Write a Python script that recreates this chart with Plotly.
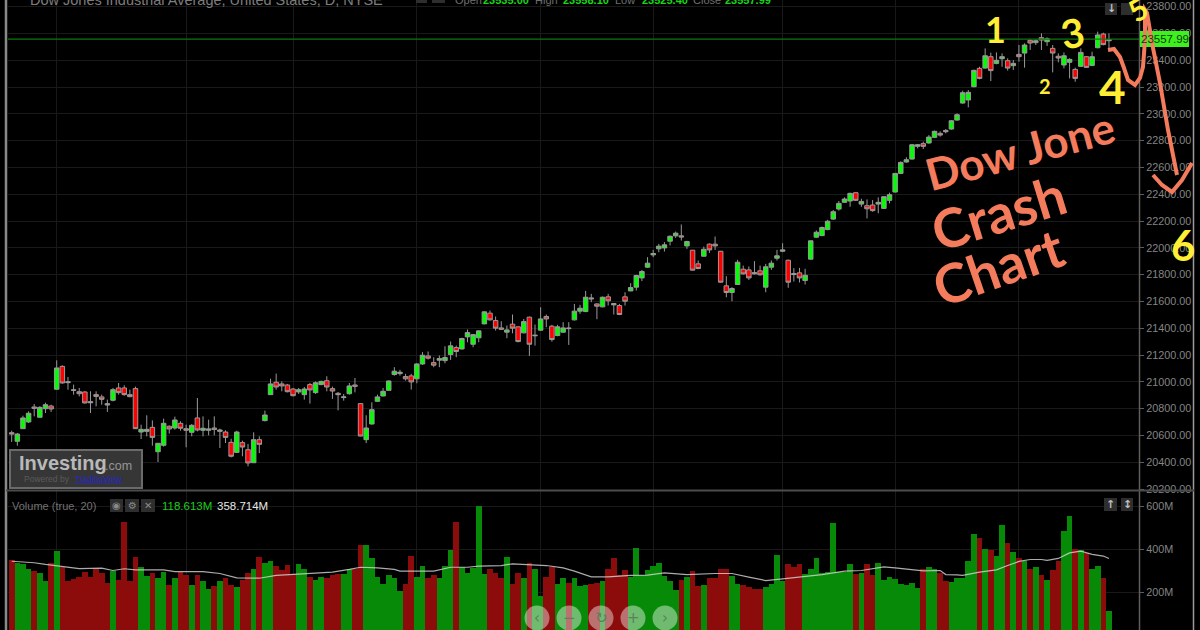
import plotly.graph_objects as go

highs = [20636,20619,20748,20780,20835,20818,20845,20830,21161,21124,
 21037,20980,20955,20930,20930,20930,20905,20868,20955,20992,
 20975,20942,20965,20681,20751,20713,20544,20726,20676,20741,
 20706,20681,20686,20880,20743,20718,20743,20651,20639,20576,
 20636,20562,20537,20624,20594,20786,21024,21062,21004,20985,
 20955,20955,20962,20992,21004,21009,21042,20965,20925,20910,
 20992,21029,20840,20751,20848,20905,20955,21012,21110,21090,
 21060,21060,21139,21222,21227,21184,21197,21266,21301,21271,
 21329,21391,21358,21383,21525,21533,21488,21453,21421,21503,
 21413,21470,21488,21428,21557,21503,21426,21426,21446,21446,
 21582,21575,21679,21657,21587,21637,21657,21587,21582,21669,
 21737,21799,21836,21931,21985,22030,22043,22092,22122,22175,
 22053,21985,21906,22010,22033,22085,21978,21789,21707,21911,
 21868,21861,21901,21868,21881,21906,21985,22035,21913,21849,
 21851,21844,22055,22130,22160,22209,22283,22350,22377,22412,
 22414,22367,22362,22357,22377,22387,22412,22559,22646,22676,
 22775,22775,22793,22842,22875,22870,22887,22954,23004,23173,
 23178,23330,23352,23489,23457,23459,23452,23415,23402,23514,
 23527,23556,23556,23601,23571,23514,23452,23459,23415,23345,
 23489,23432,23464,23614,23606,23601]

body_tops = [20621,20611,20731,20766,20813,20810,20830,20820,21104,21116,
 21002,20942,20927,20925,20853,20905,20888,20838,20942,20955,
 20955,20905,20950,20646,20646,20661,20542,20691,20669,20716,
 20691,20651,20676,20731,20654,20649,20656,20641,20626,20549,
 20626,20547,20494,20569,20569,20753,20985,20997,20985,20977,
 20947,20942,20947,20980,20994,21004,21009,20950,20915,20888,
 20970,20977,20838,20656,20793,20888,20930,21007,21080,21072,
 21040,21045,21134,21199,21194,21144,21174,21182,21269,21256,
 21324,21368,21353,21381,21523,21513,21458,21403,21388,21431,
 21411,21450,21483,21348,21470,21488,21416,21411,21403,21403,
 21528,21550,21632,21627,21582,21632,21635,21585,21570,21635,
 21704,21794,21824,21886,21958,22013,22023,22087,22110,22090,
 22048,21983,21881,21990,22028,22028,21975,21717,21697,21893,
 21841,21836,21816,21829,21859,21886,21941,21985,21908,21809,
 21814,21796,22053,22117,22152,22199,22270,22332,22365,22407,
 22412,22347,22315,22320,22340,22382,22397,22556,22638,22658,
 22770,22770,22778,22827,22870,22855,22877,22949,22994,23158,
 23161,23325,23340,23434,23427,23400,23427,23397,23377,23444,
 23514,23549,23546,23569,23561,23489,23430,23434,23407,23332,
 23459,23427,23427,23589,23596,23554]

body_bottoms = [20611,20557,20651,20701,20803,20736,20800,20798,20945,20992,
 20995,20937,20912,20843,20845,20892,20870,20828,20863,20920,
 20905,20890,20651,20626,20631,20586,20479,20527,20649,20656,
 20654,20639,20624,20641,20639,20639,20646,20631,20586,20445,
 20474,20514,20395,20397,20534,20711,20905,20962,20970,20927,
 20897,20925,20905,20940,20920,20980,20962,20932,20905,20883,
 20912,20967,20596,20569,20686,20855,20895,20937,21055,21062,
 21023,21000,21023,21134,21177,21125,21162,21159,21204,21227,
 21246,21336,21281,21329,21433,21463,21401,21393,21371,21401,
 21301,21366,21281,21344,21386,21470,21316,21346,21371,21398,
 21463,21528,21525,21620,21565,21560,21605,21575,21503,21602,
 21679,21707,21776,21856,21948,21993,22000,22050,22090,22082,
 22015,21834,21846,21938,21985,22015,21744,21667,21667,21727,
 21806,21776,21806,21799,21707,21856,21923,21975,21744,21801,
 21776,21757,21916,22080,22092,22137,22215,22290,22340,22350,
 22355,22327,22292,22278,22327,22295,22355,22417,22556,22641,
 22663,22758,22758,22783,22825,22842,22867,22887,22954,23081,
 23104,23203,23265,23342,23323,23377,23412,23342,23360,23427,
 23454,23529,23532,23551,23539,23454,23417,23365,23385,23265,
 23355,23347,23362,23494,23517,23546]

lows = [20552,20524,20649,20693,20743,20736,20768,20776,20942,20987,
 20942,20905,20892,20838,20768,20818,20830,20776,20855,20905,
 20897,20885,20649,20574,20594,20524,20402,20517,20614,20644,
 20636,20512,20594,20631,20594,20601,20601,20507,20544,20437,
 20469,20445,20370,20395,20469,20706,20902,20942,20930,20922,
 20892,20910,20868,20838,20910,20975,20930,20873,20788,20860,
 20905,20922,20594,20544,20681,20853,20892,20935,21047,21047,
 21010,20943,20990,21127,21167,21110,21110,21139,21164,21184,
 21241,21296,21259,21296,21431,21458,21383,21388,21326,21363,
 21296,21363,21194,21271,21383,21408,21301,21341,21366,21276,
 21458,21508,21520,21595,21468,21557,21570,21503,21498,21570,
 21677,21682,21752,21851,21931,21968,21973,22018,22075,22055,
 21993,21831,21841,21936,21963,21985,21742,21632,21602,21724,
 21801,21761,21801,21794,21669,21836,21906,21968,21702,21749,
 21742,21727,21913,22075,22087,22132,22208,22278,22337,22307,
 22350,22307,22220,22270,22258,22290,22332,22414,22551,22636,
 22658,22743,22738,22778,22820,22830,22855,22882,22949,23076,
 23049,23198,23258,23337,23245,23370,23352,23323,23328,23390,
 23345,23477,23514,23477,23507,23310,23385,23340,23265,23240,
 23350,23345,23357,23489,23512,23489]

directions = ("RGGGRGGRGR" "RRRRRRRRGR" "RRRGGRGGRG" "RRGRGGRGRR" "GRRGRGGRRR"
              "RGGRGGRRRG" "GRRGGGGGGG" "RRGGRRGGGR" "GGGGGRRRGR" "RGRGGRRGGR"
              "GGGRRGRRRR" "GGGGGGGGGR" "GRRGRRRRGG" "RRRRGGGGRR" "RGGGGGGGGG"
              "RGRRGGGGGG" "GGRGGRRGGG" "GGRGRGGRGR" "GRGRGRRGGR" "GRGGRG")

volumes = [353,337,334,308,300,292,256,336,392,320,
 252,264,273,294,273,312,289,244,301,261,
 530,252,365,320,278,292,269,294,234,269,
 297,281,234,281,252,217,230,252,266,234,
 224,261,292,308,365,340,348,326,304,328,
 286,334,308,273,261,273,269,281,287,287,
 311,308,421,421,360,273,242,281,269,206,
 242,370,273,326,270,281,269,326,396,529,
 320,292,314,602,287,308,292,270,365,238,
 292,270,336,312,186,273,318,238,269,247,
 266,230,234,242,247,252,312,362,281,306,
 273,406,280,306,326,336,278,252,211,261,
 273,300,233,234,270,266,308,308,278,242,
 234,225,217,217,225,242,374,256,331,318,
 331,287,308,362,292,294,522,297,297,331,
 287,292,331,281,339,261,273,264,238,234,
 244,222,308,317,311,292,256,248,269,269,
 346,471,452,404,396,370,514,432,388,362,
 346,308,320,281,261,304,346,488,558,401,
 399,385,312,325,266,115]

ma_days = [0,4,6,9,12,16,18,20,22,27,29,34,37,40,44,47,51,54,57,60,62,65,68,69,75,78,81,83,87,89,
 93,95,98,100,103,106,110,113,116,120,125,128,131,134,137,140,144,146,148,151,154,155,157,160,
 162,165,166,168,169,172,175,177,179,181,183,184,186,188,190,192,194,195]
ma_values = [346,339,331,320,312,314,303,311,306,306,298,298,289,269,267,280,287,289,295,308,318,315,308,300,
 300,318,318,323,326,334,329,326,315,300,273,273,280,281,292,284,289,289,272,256,264,272,284,292,300,303,
 315,320,315,306,301,303,284,283,280,295,306,326,345,354,354,350,359,385,393,378,370,358.714]

price_ticks = list(range(20200, 24000, 200))
volume_ticks = [200, 400, 600]
volume_labels = ["200M", "400M", "600M"]
grid_days = [8, 31, 50, 72, 94, 114, 137, 157, 179]
last_price = 23557.99
header_words = ["Open", "High", "Low", "Close"]
header_values = ["23535.00", "23558.10", "23525.40", "23557.99"]

W, H = 1200, 630
SPAN = 5.627
X0 = 11.7
def px(x): return x / W
def py(y): return 1 - y / H

days = list(range(len(highs)))
rising = [d == "G" for d in directions]
opens = [b if r else t for r, t, b in zip(rising, body_tops, body_bottoms)]
closes = [t if r else b for r, t, b in zip(rising, body_tops, body_bottoms)]

WICK = "#9a9a9a"
CORAL = "#f47c5c"
YELLOW = "#ffee33"
AXIS_TXT = "#858585"
GRID = "#191919"
FONT = "Liberation Sans"

fig = go.Figure()
fig.add_trace(go.Candlestick(
    x=days, open=opens, high=highs, low=lows, close=closes,
    increasing=dict(line=dict(color=WICK, width=1), fillcolor="#00ff00"),
    decreasing=dict(line=dict(color=WICK, width=1), fillcolor="#ff0000"),
    whiskerwidth=0, xaxis="x", yaxis="y", showlegend=False, hoverinfo="skip"))
fig.add_trace(go.Bar(
    x=days, y=volumes,
    marker=dict(color=["#078a07" if r else "#8c0b0b" for r in rising], line=dict(width=0)),
    width=1, xaxis="x2", yaxis="y2", showlegend=False, hoverinfo="skip"))
fig.add_trace(go.Scatter(
    x=ma_days, y=ma_values, mode="lines",
    line=dict(color="rgba(215,215,215,0.8)", width=1.2),
    xaxis="x2", yaxis="y2", showlegend=False, hoverinfo="skip"))

x_rng = [(8 - X0) / SPAN, (1139 - X0) / SPAN]
shapes = []
def line(x0, y0, x1, y1, color, width):
    shapes.append(dict(type="line", xref="paper", yref="paper", x0=px(x0), y0=py(y0), x1=px(x1), y1=py(y1),
                       line=dict(color=color, width=width), layer="above"))
def rect(x0, y0, x1, y1, fill, border=None, width=0):
    shapes.append(dict(type="rect", xref="paper", yref="paper", x0=px(x0), y0=py(y0), x1=px(x1), y1=py(y1),
                       fillcolor=fill, line=dict(color=border or fill, width=width), layer="above"))
def circle(cx, cy, r, fill):
    shapes.append(dict(type="circle", xref="paper", yref="paper", x0=px(cx - r), y0=py(cy - r), x1=px(cx + r), y1=py(cy + r),
                       fillcolor=fill, line=dict(width=0), layer="above"))
def stroke(points, color, width):
    d = "M " + " L ".join(f"{px(a):.5f},{py(b):.5f}" for a, b in points)
    shapes.append(dict(type="path", xref="paper", yref="paper", path=d,
                       line=dict(color=color, width=width), layer="above"))

shapes.append(dict(type="line", xref="x", yref="y", x0=x_rng[0], x1=x_rng[1], y0=last_price, y1=last_price,
                   line=dict(color="#0c7a0c", width=1.2), layer="above"))
line(6, 0, 6, 630, "#8a8a8a", 2.5)
line(1139.5, 0, 1139.5, 630, "#5e5e5e", 1.5)
line(1193.5, 0, 1193.5, 630, "#9a9a9a", 1.5)
line(6, 490.5, 1194, 490.5, "#4c4c4c", 2)
rect(1140, 31, 1189, 47, "#3ef01e")
rect(10, 450, 142, 488, "#363636", "#6a6a6a", 2)
for x0, y0, x1, y1 in [(416, 0, 427, 3), (432, 0, 445, 3), (1105, 3, 1117, 15), (1121, 3, 1133, 15),
                       (1104, 498, 1117, 511), (1121, 498, 1133, 511),
                       (110, 499, 123, 512), (125, 499, 139, 512), (141, 499, 155, 512)]:
    rect(x0, y0, x1, y1, "#2e2e2e")
nav_x = [537, 569, 601, 633, 665]
for cx in nav_x:
    circle(cx, 618, 12.5, "rgba(255,255,255,0.42)")
stroke([(1108, 50), (1114, 49), (1120, 57), (1124, 68), (1128, 80), (1135, 85), (1140, 78), (1143, 67), (1145, 40), (1145, 10),
        (1147, 13), (1153, 48), (1160, 83), (1168, 130), (1177, 175)], CORAL, 4)
stroke([(1153, 175), (1162, 185), (1172, 192), (1182, 180), (1192, 163)], CORAL, 4)

ann = []
def text(x, y, s, color, size, anchor="left", font=FONT, angle=0, weight="normal", style="normal"):
    ann.append(dict(xref="paper", yref="paper", x=px(x), y=py(y), text=s, showarrow=False, xanchor=anchor, yanchor="middle",
                    textangle=angle, font=dict(color=color, size=size, family=font, weight=weight, style=style),
                    borderpad=0, borderwidth=0))

text(30, 0, "Dow Jones Industrial Average, United States, D, NYSE", "#7d7d7d", 14.5)
for xw, xv, w, v in zip([455, 535, 615, 693], [483, 563, 642, 725], header_words, header_values):
    text(xw, 0, w, "#6f6f6f", 11)
    text(xv, 0, v, "#16d616", 11, weight="bold")
text(1141, 39, f"{last_price:.2f}", "#0b3b0b", 11.5)
text(12, 505.5, "Volume (true, 20)", "#737373", 11)
text(162, 505.5, "118.613M", "#18d018", 11.5)
text(217, 505.5, "358.714M", "#e6e6e6", 11.5)
for cx, g in zip([116.5, 132, 148], ["◉", "⚙", "✕"]):
    text(cx, 505.5, g, "#8a8a8a", 10, anchor="center", font="DejaVu Sans")
for cx, cy, g in [(1111, 9, "↓"), (1110.5, 504.5, "↑"), (1127, 504.5, "↕")]:
    text(cx, cy, g, "#c0c0c0", 11, anchor="center", font="DejaVu Sans", weight="bold")
text(19, 463, "Investing", "#b9b9b9", 20, weight="bold")
text(105, 465.5, ".com", "#969696", 12.5)
text(24, 479, "Powered by", "#5b5b5b", 8.5)
text(75, 479, "<u>TradingView</u>", "#2626cc", 8.5)
for cx, g in zip(nav_x, ["‹", "−", "↻", "+", "›"]):
    text(cx, 618, g, "#5f7f5f", 15, anchor="center", font="DejaVu Sans")
text(1020, 150, "Dow Jone", CORAL, 44, anchor="center", font="Lato", angle=-15, weight="bold")
text(998, 212, "Crash", CORAL, 54, anchor="center", font="Lato", angle=-17, weight="bold")
text(998, 266, "Chart", CORAL, 54, anchor="center", font="Lato", angle=-19, weight="bold")
text(995, 29, "1", YELLOW, 36, anchor="center", font="Lato", weight="bold")
text(1045, 86, "2", YELLOW, 20, anchor="center", font="Lato", weight="bold")
text(1072, 33, "3", YELLOW, 40, anchor="center", font="Lato", weight="bold", angle=-10)
text(1112, 87, "4", YELLOW, 46, anchor="center", font="Lato", weight="bold")
text(1137, 9, "5", YELLOW, 30, anchor="center", font="Lato", weight="bold", angle=-30)
text(1183, 245, "6", YELLOW, 42, anchor="center", font="Lato", weight="bold")

axis_font = dict(color=AXIS_TXT, size=10.8, family=FONT)
fig.update_layout(
    width=W, height=H + 4.6, margin=dict(l=0, r=0, t=0, b=0),
    paper_bgcolor="#000000", plot_bgcolor="#000000", showlegend=False, bargap=0, boxgap=0.2, boxgroupgap=0,
    shapes=shapes, annotations=ann,
    xaxis=dict(domain=[px(8), px(1139)], range=x_rng, anchor="y", tickmode="array", tickvals=grid_days,
               showticklabels=False, showgrid=True, gridcolor=GRID, gridwidth=1, zeroline=False,
               rangeslider=dict(visible=False), ticks=""),
    xaxis2=dict(domain=[px(8), px(1139)], range=x_rng, anchor="y2", tickmode="array", tickvals=grid_days,
                showticklabels=False, showgrid=True, gridcolor=GRID, gridwidth=1, zeroline=False, ticks=""),
    yaxis=dict(domain=[py(490), 1], range=[20193.4, 23850], side="right", anchor="x",
               tickmode="array", tickvals=price_ticks, ticktext=[f"{v:.2f}" for v in price_ticks],
               tickfont=axis_font, showgrid=True, gridcolor=GRID, gridwidth=1, zeroline=False,
               ticks="outside", ticklen=4, tickcolor="#5e5e5e"),
    yaxis2=dict(domain=[0, py(491)], range=[26.2, 672.6], side="right", anchor="x2",
                tickmode="array", tickvals=volume_ticks, ticktext=volume_labels,
                tickfont=axis_font, showgrid=True, gridcolor=GRID, gridwidth=1, zeroline=False,
                ticks="outside", ticklen=4, tickcolor="#5e5e5e"),
)

fig.write_html("out.html", config=dict(displayModeBar=False, responsive=False),
               default_width="1200px", default_height="630px",
               post_script="document.body.style.margin='0';document.body.style.background='#000';document.documentElement.style.overflow='hidden';")
